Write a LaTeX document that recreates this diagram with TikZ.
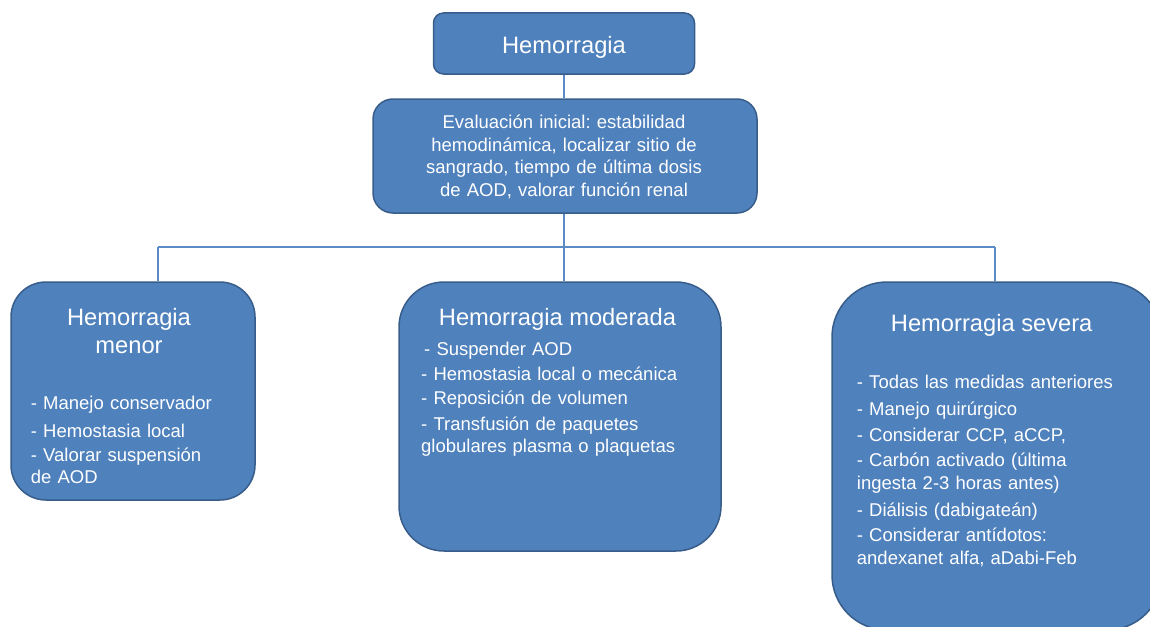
\documentclass[tikz,border=0pt]{standalone}
\usepackage{fontspec}
\setmainfont{Liberation Sans}
\usepackage{xcolor}
\usepackage{tikz}
\usetikzlibrary{positioning,calc}
\frenchspacing
\definecolor{boxfill}{HTML}{4F81BD}
\definecolor{boxline}{HTML}{385D8A}
\definecolor{linkline}{HTML}{5B8BC6}
\tikzset{%
          box/.style = { draw=boxline, fill=boxfill, line width=1.5pt, rectangle, inner sep=0pt },
      heading/.style = { white, anchor=base, inner sep=0pt, align=center,
                         font=\fontsize{23.7}{28}\selectfont },
        items/.style = { white, anchor=base west, inner sep=0pt, text width=300pt, align=left,
                         font=\fontsize{18.5}{22.7}\selectfont },
         link/.style = { draw=linkline, line width=1.2pt }
}

\begin{document}
\begin{tikzpicture}[x=1pt,y=-1pt,line cap=butt,line join=round]
\useasboundingbox (0,0) rectangle (1150,626);
\clip (0,0) rectangle (1150,626);
% boxes
\node[box,rounded corners=10pt,minimum width=261pt,minimum height=61pt] (hem) at (564,43.5) {};
\node[box,rounded corners=20pt,minimum width=384pt,minimum height=114pt] (eval) at (565,156) {};
\node[box,rounded corners=35pt,minimum width=244pt,minimum height=218pt] (menor) at (133,391) {};
\node[box,rounded corners=45pt,minimum width=322pt,minimum height=269pt] (moder) at (560,416.5) {};
\node[box,rounded corners=55pt,minimum width=330pt,minimum height=348pt] (sever) at (997,456) {};
% connectors
\coordinate (jl) at (158,247);
\coordinate (jr) at (995,247);
\coordinate (jm) at (564,247);
\draw[link] (hem.south) -- (hem.south |- eval.north);
\draw[link] (jm |- eval.south) -- (jm |- moder.north);
\draw[link] (jl) -- (jr);
\draw[link] (jl) -- (jl |- menor.north);
\draw[link] (jr) -- (jr |- sever.north);
% texts
\node[heading] (them) at (564,53.3) {Hemorragia};
\node[items,text width=360pt,align=center,anchor=base]
  (teval) at (564,128.3) {Evaluación inicial: estabilidad\\hemodinámica, localizar sitio de\\sangrado, tiempo de última dosis\\de AOD, valorar función renal};
\node[heading,text width=220pt] (tmenor) at (129,325) {Hemorragia\\menor};
\node[items,text width=220pt] (lmenor) at (30.7,409) {- Manejo conservador\\[5.3pt]- Hemostasia local\\[1.3pt]- Valorar suspensión\\de AOD};
\node[heading] (tmoder) at (557.5,325) {Hemorragia moderada};
\node[items] (lmoder) at (421,355) {\hspace{3pt}- Suspender AOD\\[2.3pt]- Hemostasia local o mecánica\\[1.3pt]- Reposición de volumen\\[3.3pt]- Transfusión de paquetes\\globulares plasma o plaquetas};
\node[heading] (tsever) at (991.7,331.7) {Hemorragia severa};
\node[items,text width=280pt] (lsever) at (856.7,388.3) {- Todas las medidas anteriores\\[4pt]- Manejo quirúrgico\\[3.3pt]- Considerar CCP, aCCP,\\[3pt]- Carbón activado (última\\ingesta 2-3 horas antes)\\[4pt]- Diálisis (dabigateán)\\[3pt]- Considerar antídotos:\\andexanet alfa, aDabi-Feb};
\end{tikzpicture}
\end{document}
